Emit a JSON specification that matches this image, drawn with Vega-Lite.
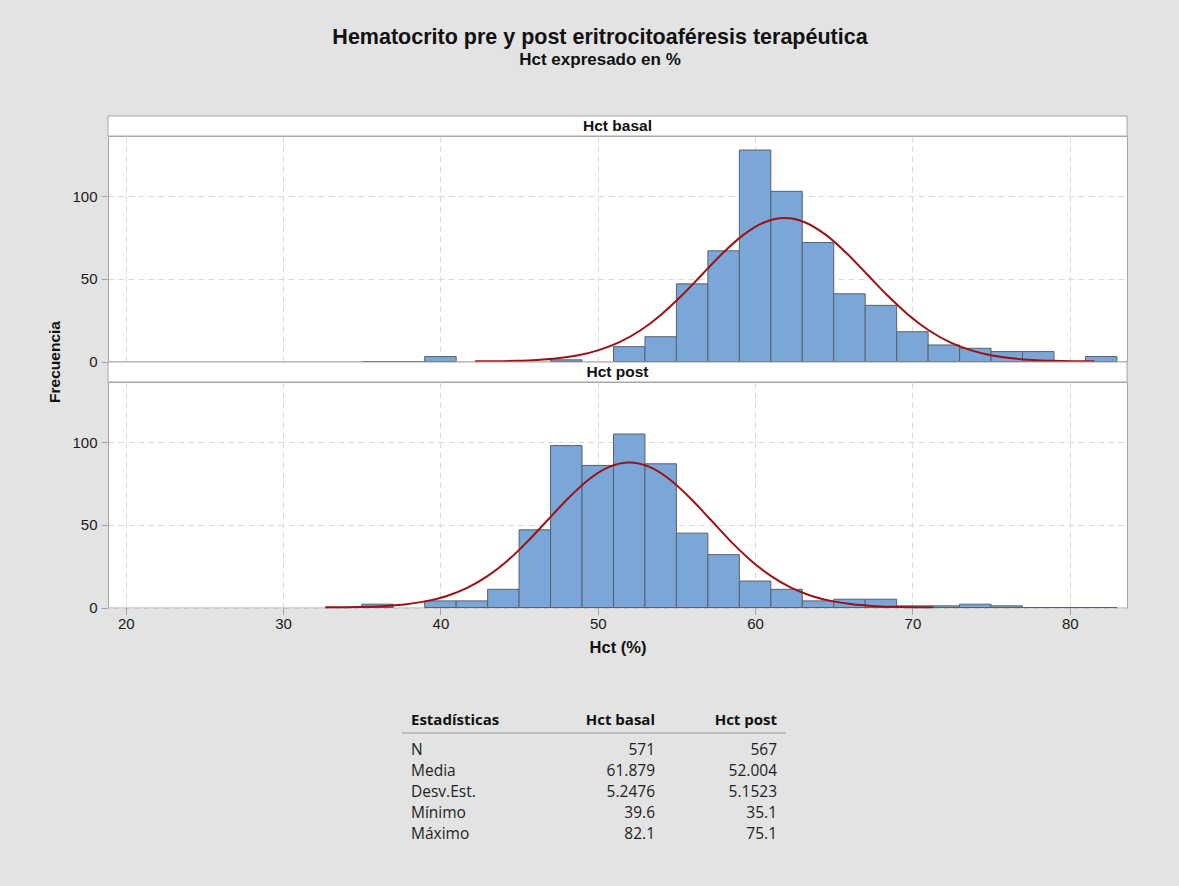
{
  "$schema": "https://vega.github.io/schema/vega-lite/v6.json",
  "background": "#e3e3e3",
  "padding": {"left": 46, "top": 27, "right": 52, "bottom": 28},
  "title": {
    "text": "Hematocrito pre y post eritrocitoaféresis terapéutica",
    "subtitle": "Hct expresado en %",
    "font": "Liberation Sans",
    "subtitleFont": "Liberation Sans",
    "fontSize": 21.5,
    "subtitleFontSize": 17,
    "fontWeight": "bold",
    "subtitleFontWeight": "bold",
    "color": "#111111",
    "subtitleColor": "#111111",
    "anchor": "middle",
    "dx": 13,
    "offset": 48,
    "subtitlePadding": 3
  },
  "spacing": 0,
  "bounds": "flush",
  "config": {
    "font": "Liberation Sans",
    "view": {"fill": "white", "stroke": "#a6a6a6", "strokeWidth": 1},
    "axis": {
      "labelFont": "Liberation Sans",
      "labelFontSize": 15,
      "labelColor": "#1a1a1a",
      "tickColor": "#a6a6a6",
      "gridColor": "#dadada",
      "gridDash": [6, 4],
      "gridWidth": 1,
      "domain": false,
      "titleFont": "Liberation Sans",
      "titleFontSize": 15.5,
      "titleFontWeight": "bold",
      "titleColor": "#111111"
    }
  },
  "datasets": {
    "barras": [
      {"panel": "Hct basal", "desde": 35, "hasta": 37, "n": 0},
      {"panel": "Hct basal", "desde": 37, "hasta": 39, "n": 0},
      {"panel": "Hct basal", "desde": 39, "hasta": 41, "n": 3},
      {"panel": "Hct basal", "desde": 47, "hasta": 49, "n": 1},
      {"panel": "Hct basal", "desde": 51, "hasta": 53, "n": 9},
      {"panel": "Hct basal", "desde": 53, "hasta": 55, "n": 15},
      {"panel": "Hct basal", "desde": 55, "hasta": 57, "n": 47},
      {"panel": "Hct basal", "desde": 57, "hasta": 59, "n": 67},
      {"panel": "Hct basal", "desde": 59, "hasta": 61, "n": 128},
      {"panel": "Hct basal", "desde": 61, "hasta": 63, "n": 103},
      {"panel": "Hct basal", "desde": 63, "hasta": 65, "n": 72},
      {"panel": "Hct basal", "desde": 65, "hasta": 67, "n": 41},
      {"panel": "Hct basal", "desde": 67, "hasta": 69, "n": 34},
      {"panel": "Hct basal", "desde": 69, "hasta": 71, "n": 18},
      {"panel": "Hct basal", "desde": 71, "hasta": 73, "n": 10},
      {"panel": "Hct basal", "desde": 73, "hasta": 75, "n": 8},
      {"panel": "Hct basal", "desde": 75, "hasta": 77, "n": 6},
      {"panel": "Hct basal", "desde": 77, "hasta": 79, "n": 6},
      {"panel": "Hct basal", "desde": 81, "hasta": 83, "n": 3},
      {"panel": "Hct post", "desde": 35, "hasta": 37, "n": 2},
      {"panel": "Hct post", "desde": 39, "hasta": 41, "n": 4},
      {"panel": "Hct post", "desde": 41, "hasta": 43, "n": 4},
      {"panel": "Hct post", "desde": 43, "hasta": 45, "n": 11},
      {"panel": "Hct post", "desde": 45, "hasta": 47, "n": 47},
      {"panel": "Hct post", "desde": 47, "hasta": 49, "n": 98},
      {"panel": "Hct post", "desde": 49, "hasta": 51, "n": 86},
      {"panel": "Hct post", "desde": 51, "hasta": 53, "n": 105},
      {"panel": "Hct post", "desde": 53, "hasta": 55, "n": 87},
      {"panel": "Hct post", "desde": 55, "hasta": 57, "n": 45},
      {"panel": "Hct post", "desde": 57, "hasta": 59, "n": 32},
      {"panel": "Hct post", "desde": 59, "hasta": 61, "n": 16},
      {"panel": "Hct post", "desde": 61, "hasta": 63, "n": 11},
      {"panel": "Hct post", "desde": 63, "hasta": 65, "n": 4},
      {"panel": "Hct post", "desde": 65, "hasta": 67, "n": 5},
      {"panel": "Hct post", "desde": 67, "hasta": 69, "n": 5},
      {"panel": "Hct post", "desde": 69, "hasta": 71, "n": 1},
      {"panel": "Hct post", "desde": 71, "hasta": 73, "n": 1},
      {"panel": "Hct post", "desde": 73, "hasta": 75, "n": 2},
      {"panel": "Hct post", "desde": 75, "hasta": 77, "n": 1},
      {"panel": "Hct post", "desde": 77, "hasta": 79, "n": 0},
      {"panel": "Hct post", "desde": 79, "hasta": 81, "n": 0},
      {"panel": "Hct post", "desde": 81, "hasta": 83, "n": 0}
    ],
    "curva": [
      {"panel": "Hct basal", "hct": 42.20, "frecuencia": 0.08},
      {"panel": "Hct basal", "hct": 43.51, "frecuencia": 0.19},
      {"panel": "Hct basal", "hct": 44.82, "frecuencia": 0.44},
      {"panel": "Hct basal", "hct": 46.14, "frecuencia": 0.96},
      {"panel": "Hct basal", "hct": 47.45, "frecuencia": 1.98},
      {"panel": "Hct basal", "hct": 48.76, "frecuencia": 3.81},
      {"panel": "Hct basal", "hct": 50.07, "frecuencia": 6.91},
      {"panel": "Hct basal", "hct": 51.38, "frecuencia": 11.75},
      {"panel": "Hct basal", "hct": 52.70, "frecuencia": 18.78},
      {"panel": "Hct basal", "hct": 54.01, "frecuencia": 28.19},
      {"panel": "Hct basal", "hct": 55.32, "frecuencia": 39.75},
      {"panel": "Hct basal", "hct": 56.63, "frecuencia": 52.66},
      {"panel": "Hct basal", "hct": 57.94, "frecuencia": 65.54},
      {"panel": "Hct basal", "hct": 59.26, "frecuencia": 76.62},
      {"panel": "Hct basal", "hct": 60.57, "frecuencia": 84.15},
      {"panel": "Hct basal", "hct": 61.88, "frecuencia": 86.82},
      {"panel": "Hct basal", "hct": 63.19, "frecuencia": 84.15},
      {"panel": "Hct basal", "hct": 64.50, "frecuencia": 76.62},
      {"panel": "Hct basal", "hct": 65.82, "frecuencia": 65.54},
      {"panel": "Hct basal", "hct": 67.13, "frecuencia": 52.66},
      {"panel": "Hct basal", "hct": 68.44, "frecuencia": 39.75},
      {"panel": "Hct basal", "hct": 69.75, "frecuencia": 28.19},
      {"panel": "Hct basal", "hct": 71.06, "frecuencia": 18.78},
      {"panel": "Hct basal", "hct": 72.37, "frecuencia": 11.75},
      {"panel": "Hct basal", "hct": 73.69, "frecuencia": 6.91},
      {"panel": "Hct basal", "hct": 75.00, "frecuencia": 3.81},
      {"panel": "Hct basal", "hct": 76.31, "frecuencia": 1.98},
      {"panel": "Hct basal", "hct": 77.62, "frecuencia": 0.96},
      {"panel": "Hct basal", "hct": 78.93, "frecuencia": 0.44},
      {"panel": "Hct basal", "hct": 80.25, "frecuencia": 0.19},
      {"panel": "Hct basal", "hct": 81.56, "frecuencia": 0.08},
      {"panel": "Hct post", "hct": 32.68, "frecuencia": 0.08},
      {"panel": "Hct post", "hct": 33.97, "frecuencia": 0.19},
      {"panel": "Hct post", "hct": 35.26, "frecuencia": 0.45},
      {"panel": "Hct post", "hct": 36.55, "frecuencia": 0.98},
      {"panel": "Hct post", "hct": 37.84, "frecuencia": 2.00},
      {"panel": "Hct post", "hct": 39.12, "frecuencia": 3.86},
      {"panel": "Hct post", "hct": 40.41, "frecuencia": 6.99},
      {"panel": "Hct post", "hct": 41.70, "frecuencia": 11.88},
      {"panel": "Hct post", "hct": 42.99, "frecuencia": 18.99},
      {"panel": "Hct post", "hct": 44.28, "frecuencia": 28.51},
      {"panel": "Hct post", "hct": 45.56, "frecuencia": 40.20},
      {"panel": "Hct post", "hct": 46.85, "frecuencia": 53.26},
      {"panel": "Hct post", "hct": 48.14, "frecuencia": 66.28},
      {"panel": "Hct post", "hct": 49.43, "frecuencia": 77.49},
      {"panel": "Hct post", "hct": 50.72, "frecuencia": 85.11},
      {"panel": "Hct post", "hct": 52.00, "frecuencia": 87.81},
      {"panel": "Hct post", "hct": 53.29, "frecuencia": 85.11},
      {"panel": "Hct post", "hct": 54.58, "frecuencia": 77.49},
      {"panel": "Hct post", "hct": 55.87, "frecuencia": 66.28},
      {"panel": "Hct post", "hct": 57.16, "frecuencia": 53.26},
      {"panel": "Hct post", "hct": 58.44, "frecuencia": 40.20},
      {"panel": "Hct post", "hct": 59.73, "frecuencia": 28.51},
      {"panel": "Hct post", "hct": 61.02, "frecuencia": 18.99},
      {"panel": "Hct post", "hct": 62.31, "frecuencia": 11.88},
      {"panel": "Hct post", "hct": 63.60, "frecuencia": 6.99},
      {"panel": "Hct post", "hct": 64.89, "frecuencia": 3.86},
      {"panel": "Hct post", "hct": 66.17, "frecuencia": 2.00},
      {"panel": "Hct post", "hct": 67.46, "frecuencia": 0.98},
      {"panel": "Hct post", "hct": 68.75, "frecuencia": 0.45},
      {"panel": "Hct post", "hct": 70.04, "frecuencia": 0.19},
      {"panel": "Hct post", "hct": 71.33, "frecuencia": 0.08}
    ],
    "tabla": [
      {"fila": "Estadísticas", "columna": "Estadísticas", "texto": "Estadísticas"},
      {"fila": "Estadísticas", "columna": "Hct basal", "texto": "Hct basal"},
      {"fila": "Estadísticas", "columna": "Hct post", "texto": "Hct post"},
      {"fila": "N", "columna": "Estadísticas", "texto": "N"},
      {"fila": "N", "columna": "Hct basal", "texto": "571"},
      {"fila": "N", "columna": "Hct post", "texto": "567"},
      {"fila": "Media", "columna": "Estadísticas", "texto": "Media"},
      {"fila": "Media", "columna": "Hct basal", "texto": "61.879"},
      {"fila": "Media", "columna": "Hct post", "texto": "52.004"},
      {"fila": "Desv.Est.", "columna": "Estadísticas", "texto": "Desv.Est."},
      {"fila": "Desv.Est.", "columna": "Hct basal", "texto": "5.2476"},
      {"fila": "Desv.Est.", "columna": "Hct post", "texto": "5.1523"},
      {"fila": "Mínimo", "columna": "Estadísticas", "texto": "Mínimo"},
      {"fila": "Mínimo", "columna": "Hct basal", "texto": "39.6"},
      {"fila": "Mínimo", "columna": "Hct post", "texto": "35.1"},
      {"fila": "Máximo", "columna": "Estadísticas", "texto": "Máximo"},
      {"fila": "Máximo", "columna": "Hct basal", "texto": "82.1"},
      {"fila": "Máximo", "columna": "Hct post", "texto": "75.1"}
    ]
  },
  "vconcat": [
    {
      "width": 1019,
      "height": 20,
      "data": {"values": [{"panel": "Hct basal"}]},
      "layer": [
        {"mark": {"type": "rect", "fill": "white", "stroke": "#a6a6a6", "strokeWidth": 1}, "encoding": {}},
        {
          "mark": {"type": "text", "font": "Liberation Sans", "fontSize": 15.5, "fontWeight": "bold", "color": "#111111", "baseline": "middle", "align": "center"},
          "encoding": {"text": {"field": "panel"}}
        }
      ]
    },
    {
      "width": 1019,
      "height": 225.5,
      "layer": [
        {
          "data": {"name": "barras"},
          "transform": [{"filter": "datum.panel === 'Hct basal'"}],
          "mark": {"type": "rect", "fill": "#7ba6d8", "stroke": "#58616c", "strokeWidth": 1},
          "encoding": {
            "x": {"field": "desde", "type": "quantitative", "scale": {"domain": [18.87, 83.64], "nice": false, "zero": false},
                  "axis": {"values": [20, 30, 40, 50, 60, 70, 80], "labels": false, "ticks": false, "title": null, "grid": true}},
            "x2": {"field": "hasta"},
            "y": {"field": "n", "type": "quantitative", "scale": {"domain": [0, 136.5], "nice": false},
                  "axis": {"values": [0, 50, 100], "tickSize": 7, "labelPadding": 4, "title": "Frecuencia", "titleX": -54, "titleY": 225.5, "titleAlign": "center", "titleBaseline": "middle", "titleAngle": -90}},
            "y2": {"datum": 0}
          }
        },
        {
          "data": {"name": "curva"},
          "transform": [{"filter": "datum.panel === 'Hct basal'"}],
          "mark": {"type": "line", "color": "#9c1212", "strokeWidth": 2, "interpolate": "monotone"},
          "encoding": {
            "x": {"field": "hct", "type": "quantitative"},
            "y": {"field": "frecuencia", "type": "quantitative"}
          }
        }
      ]
    },
    {
      "width": 1019,
      "height": 20,
      "data": {"values": [{"panel": "Hct post"}]},
      "layer": [
        {"mark": {"type": "rect", "fill": "white", "stroke": "#a6a6a6", "strokeWidth": 1}, "encoding": {}},
        {
          "mark": {"type": "text", "font": "Liberation Sans", "fontSize": 15.5, "fontWeight": "bold", "color": "#111111", "baseline": "middle", "align": "center"},
          "encoding": {"text": {"field": "panel"}}
        }
      ]
    },
    {
      "width": 1019,
      "height": 225.5,
      "layer": [
        {
          "data": {"name": "barras"},
          "transform": [{"filter": "datum.panel === 'Hct post'"}],
          "mark": {"type": "rect", "fill": "#7ba6d8", "stroke": "#58616c", "strokeWidth": 1},
          "encoding": {
            "x": {"field": "desde", "type": "quantitative", "scale": {"domain": [18.87, 83.64], "nice": false, "zero": false},
                  "axis": {"values": [20, 30, 40, 50, 60, 70, 80], "tickSize": 7, "labelPadding": 2, "title": "Hct (%)", "titleFontSize": 16.5, "titlePadding": 8, "grid": true}},
            "x2": {"field": "hasta"},
            "y": {"field": "n", "type": "quantitative", "scale": {"domain": [0, 136.5], "nice": false},
                  "axis": {"values": [0, 50, 100], "tickSize": 7, "labelPadding": 4, "title": null}},
            "y2": {"datum": 0}
          }
        },
        {
          "data": {"name": "curva"},
          "transform": [{"filter": "datum.panel === 'Hct post'"}],
          "mark": {"type": "line", "color": "#9c1212", "strokeWidth": 2, "interpolate": "monotone"},
          "encoding": {
            "x": {"field": "hct", "type": "quantitative"},
            "y": {"field": "frecuencia", "type": "quantitative"}
          }
        }
      ]
    },
    {
      "width": 1019,
      "height": 250,
      "view": {"fill": null, "stroke": null},
      "data": {"name": "tabla"},
      "encoding": {
        "x": {"field": "columna", "type": "nominal", "scale": {"type": "point", "padding": 0, "domain": ["Estadísticas", "Hct basal", "Hct post"], "range": [425, 669]}, "axis": null},
        "y": {"field": "fila", "type": "nominal", "scale": {"type": "point", "padding": 0, "domain": ["Estadísticas", "N", "Media", "Desv.Est.", "Mínimo", "Máximo"], "range": [126, 231]}, "axis": null},
        "text": {"field": "texto"}
      },
      "layer": [
        {
          "transform": [{"filter": "datum.fila === 'Estadísticas' && datum.columna === 'Estadísticas'"}],
          "mark": {"type": "text", "font": "Open Sans", "fontSize": 15, "fontWeight": "bold", "color": "#111111", "align": "left", "baseline": "alphabetic", "xOffset": -122, "yOffset": -9}
        },
        {
          "transform": [{"filter": "datum.fila === 'Estadísticas' && datum.columna !== 'Estadísticas'"}],
          "mark": {"type": "text", "font": "Open Sans", "fontSize": 15, "fontWeight": "bold", "color": "#111111", "align": "right", "baseline": "alphabetic", "yOffset": -9}
        },
        {
          "transform": [{"filter": "datum.fila !== 'Estadísticas' && datum.columna === 'Estadísticas'"}],
          "mark": {"type": "text", "font": "Open Sans", "fontSize": 15.5, "color": "#222222", "align": "left", "baseline": "alphabetic", "xOffset": -122}
        },
        {
          "transform": [{"filter": "datum.fila !== 'Estadísticas' && datum.columna !== 'Estadísticas'"}],
          "mark": {"type": "text", "font": "Open Sans", "fontSize": 15.5, "color": "#222222", "align": "right", "baseline": "alphabetic"}
        },
        {
          "transform": [{"filter": "datum.fila === 'Estadísticas' && datum.columna === 'Estadísticas'"}],
          "mark": {"type": "rule", "color": "#9a9a9a", "strokeWidth": 1, "xOffset": -131, "x2Offset": 9, "yOffset": -1},
          "encoding": {
            "x": {"datum": "Estadísticas"},
            "x2": {"datum": "Hct post"},
            "text": null
          }
        }
      ]
    }
  ]
}
